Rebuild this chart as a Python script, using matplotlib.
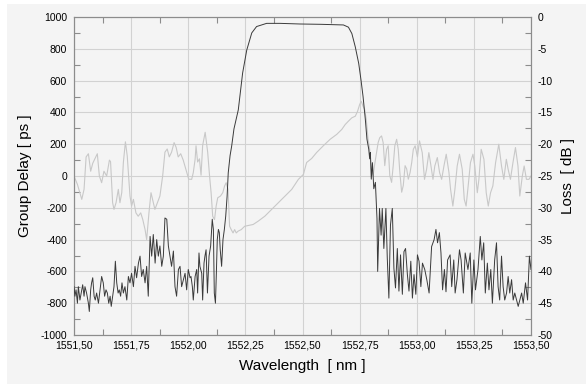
import matplotlib
matplotlib.use("Agg")
import matplotlib.pyplot as plt
from matplotlib.patches import Rectangle
from matplotlib.ticker import FuncFormatter, MultipleLocator

plt.rcParams['font.family'] = ['Liberation Sans', 'DejaVu Sans']
plt.rcParams['axes.unicode_minus'] = False

# group delay trace (light grey), wavelength [nm] / delay [ps]
gd_wl = [1551.500, 1551.515, 1551.534, 1551.544, 1551.553, 1551.563, 1551.573, 1551.582,
         1551.592, 1551.602, 1551.611, 1551.621, 1551.631, 1551.643, 1551.655, 1551.660,
         1551.669, 1551.675, 1551.684, 1551.694, 1551.701, 1551.709, 1551.716, 1551.725,
         1551.733, 1551.745, 1551.752, 1551.760, 1551.771, 1551.781, 1551.792, 1551.801,
         1551.811, 1551.818, 1551.828, 1551.837, 1551.844, 1551.854, 1551.865, 1551.876,
         1551.888, 1551.898, 1551.908, 1551.917, 1551.927, 1551.938, 1551.947, 1551.956,
         1551.967, 1551.978, 1551.990, 1552.002, 1552.015, 1552.022, 1552.030, 1552.034,
         1552.041, 1552.049, 1552.056, 1552.063, 1552.074, 1552.085, 1552.093, 1552.100,
         1552.107, 1552.115, 1552.122, 1552.129, 1552.141, 1552.151, 1552.159, 1552.166,
         1552.174, 1552.181, 1552.188, 1552.196, 1552.203, 1552.210, 1552.218, 1552.232,
         1552.247, 1552.284, 1552.306, 1552.335, 1552.365, 1552.394, 1552.424, 1552.453,
         1552.482, 1552.504, 1552.518, 1552.540, 1552.562, 1552.591, 1552.621, 1552.650,
         1552.672, 1552.687, 1552.701, 1552.716, 1552.731, 1552.741, 1552.750, 1552.757,
         1552.765, 1552.772, 1552.779, 1552.787, 1552.794, 1552.801, 1552.809, 1552.815,
         1552.824, 1552.831, 1552.838, 1552.846, 1552.853, 1552.860, 1552.868, 1552.875,
         1552.882, 1552.890, 1552.897, 1552.904, 1552.912, 1552.919, 1552.926, 1552.934,
         1552.941, 1552.949, 1552.956, 1552.963, 1552.971, 1552.978, 1552.985, 1552.993,
         1553.003, 1553.012, 1553.024, 1553.034, 1553.043, 1553.053, 1553.060, 1553.071,
         1553.079, 1553.090, 1553.100, 1553.109, 1553.119, 1553.129, 1553.141, 1553.148,
         1553.158, 1553.167, 1553.177, 1553.187, 1553.199, 1553.208, 1553.216, 1553.225,
         1553.235, 1553.246, 1553.254, 1553.265, 1553.272, 1553.282, 1553.294, 1553.304,
         1553.313, 1553.323, 1553.333, 1553.345, 1553.359, 1553.371, 1553.381, 1553.392,
         1553.400, 1553.410, 1553.421, 1553.432, 1553.443, 1553.451, 1553.462, 1553.470,
         1553.480, 1553.491, 1553.500]
gd_ps = [0, -53, -147, -84, 120, 140, 30, 80,
         110, 140, 0, -42, 30, 0, 100, 90,
         -168, -210, -168, -84, -168, -105, 84, 215,
         126, -126, -189, -147, -232, -253, -232, -274,
         -337, -400, -232, -105, -147, -210, -168, -126,
         0, 150, 170, 120, 150, 210, 180, 120,
         140, 100, 40, -20, -21, 21, 105, 190,
         88, 108, 5, 192, 275, 150, 5, -105,
         -253, -274, -190, -137, -126, -105, -63, -42,
         -84, -316, -337, -358, -337, -358, -347, -337,
         -316, -305, -284, -253, -210, -168, -126, -84,
         -21, 10, 85, 110, 148, 190, 231, 262,
         293, 324, 345, 366, 376, 407, 449, 470,
         439, 418, 356, 231, 168, 44, 2, 65,
         148, 210, 241, 252, 210, 65, 168, 190,
         2, -40, 65, 190, 231, 168, 23, -102,
         -60, 65, 44, -20, 23, 85, 168, 190,
         120, 221, 147, -21, 42, 147, 84, -21,
         63, 116, 21, -21, 63, 137, 21, -84,
         -189, -84, 63, 137, 42, -147, -189, -63,
         84, 137, 63, -105, -21, 168, 105, -105,
         -189, -105, -63, 84, 200, 63, -21, 105,
         42, -21, 84, 179, 63, -126, 0, 63,
         -21, -21, 0]

# loss trace (dark), wavelength [nm] / loss [dB]
loss_wl = [1551.500, 1551.504, 1551.509, 1551.515, 1551.519, 1551.526, 1551.534, 1551.538,
           1551.544, 1551.548, 1551.555, 1551.563, 1551.567, 1551.573, 1551.577, 1551.582,
           1551.588, 1551.593, 1551.599, 1551.607, 1551.614, 1551.621, 1551.628, 1551.634,
           1551.640, 1551.646, 1551.652, 1551.658, 1551.663, 1551.669, 1551.675, 1551.681,
           1551.687, 1551.693, 1551.698, 1551.704, 1551.710, 1551.716, 1551.723, 1551.731,
           1551.738, 1551.745, 1551.752, 1551.760, 1551.767, 1551.774, 1551.782, 1551.789,
           1551.796, 1551.803, 1551.811, 1551.818, 1551.825, 1551.833, 1551.840, 1551.847,
           1551.855, 1551.862, 1551.869, 1551.876, 1551.884, 1551.891, 1551.898, 1551.906,
           1551.913, 1551.920, 1551.927, 1551.935, 1551.942, 1551.949, 1551.957, 1551.964,
           1551.971, 1551.979, 1551.986, 1551.993, 1552.000, 1552.008, 1552.012, 1552.018,
           1552.022, 1552.030, 1552.037, 1552.041, 1552.047, 1552.051, 1552.059, 1552.063,
           1552.069, 1552.073, 1552.078, 1552.084, 1552.091, 1552.098, 1552.105, 1552.110,
           1552.114, 1552.119, 1552.123, 1552.127, 1552.132, 1552.136, 1552.140, 1552.146,
           1552.152, 1552.158, 1552.164, 1552.170, 1552.175, 1552.183, 1552.190, 1552.200,
           1552.219, 1552.238, 1552.256, 1552.278, 1552.299, 1552.343, 1552.402, 1552.489,
           1552.580, 1552.679, 1552.701, 1552.716, 1552.731, 1552.746, 1552.756, 1552.765,
           1552.775, 1552.782, 1552.790, 1552.794, 1552.797, 1552.801, 1552.806, 1552.812,
           1552.819, 1552.826, 1552.829, 1552.837, 1552.844, 1552.849, 1552.856, 1552.865,
           1552.871, 1552.878, 1552.885, 1552.893, 1552.900, 1552.907, 1552.915, 1552.922,
           1552.929, 1552.937, 1552.944, 1552.951, 1552.959, 1552.966, 1552.974, 1552.981,
           1552.988, 1552.996, 1553.003, 1553.010, 1553.018, 1553.025, 1553.035, 1553.044,
           1553.054, 1553.065, 1553.076, 1553.084, 1553.091, 1553.099, 1553.106, 1553.113,
           1553.121, 1553.128, 1553.135, 1553.146, 1553.153, 1553.162, 1553.168, 1553.176,
           1553.187, 1553.194, 1553.204, 1553.212, 1553.224, 1553.234, 1553.241, 1553.250,
           1553.257, 1553.268, 1553.278, 1553.285, 1553.293, 1553.300, 1553.309, 1553.316,
           1553.324, 1553.331, 1553.341, 1553.349, 1553.356, 1553.363, 1553.371, 1553.378,
           1553.385, 1553.393, 1553.400, 1553.407, 1553.415, 1553.422, 1553.429, 1553.437,
           1553.444, 1553.451, 1553.459, 1553.466, 1553.476, 1553.485, 1553.493, 1553.500]
loss_db = [-42.4, -43.9, -42.9, -45.0, -42.4, -44.5, -42.9, -42.1,
           -43.9, -42.4, -43.4, -45.0, -46.3, -42.9, -41.8, -41.0,
           -43.9, -44.5, -43.4, -45.0, -42.9, -40.8, -41.8, -43.9,
           -42.9, -43.4, -45.0, -43.9, -45.5, -43.9, -42.4, -38.4,
           -41.8, -43.4, -42.9, -43.9, -41.8, -43.4, -42.4, -44.5,
           -40.8, -41.8, -40.3, -42.4, -39.2, -41.0, -38.7, -37.6,
           -40.8, -39.7, -41.8, -39.2, -43.9, -34.5, -37.6, -34.2,
           -38.7, -35.0, -37.6, -36.0, -39.2, -37.6, -31.6, -31.8,
           -36.0, -37.6, -39.2, -36.8, -42.4, -43.9, -39.7, -39.2,
           -42.4, -41.3, -40.3, -42.9, -39.7, -41.0, -40.8, -42.4,
           -44.5, -40.8, -39.7, -43.4, -37.1, -39.2, -40.3, -44.5,
           -38.7, -37.6, -36.6, -43.4, -37.6, -36.0, -31.8, -33.4,
           -43.4, -45.0, -40.3, -35.0, -33.4, -33.9, -36.6, -39.2,
           -35.0, -33.4, -31.3, -28.2, -24.5, -21.8, -20.3, -17.6,
           -14.6, -8.8, -5.2, -2.5, -1.5, -1.0, -1.0, -1.1,
           -1.15, -1.25, -1.6, -2.6, -4.7, -7.3, -9.9, -12.5,
           -16.1, -19.2, -20.8, -22.3, -21.3, -25.5, -22.9, -27.0,
           -26.0, -31.7, -40.0, -30.1, -34.3, -30.1, -36.4, -30.1,
           -37.9, -44.2, -32.7, -30.1, -39.5, -42.6, -36.4, -43.1,
           -37.4, -43.6, -36.9, -36.4, -40.5, -43.1, -38.4, -44.2,
           -40.5, -43.6, -37.4, -38.4, -42.4, -38.7, -39.7, -41.3,
           -43.4, -36.1, -35.0, -33.4, -35.5, -33.9, -37.1, -42.9,
           -39.7, -43.2, -38.2, -37.4, -42.4, -38.2, -43.4, -41.3,
           -36.6, -38.2, -43.4, -37.1, -39.7, -37.1, -45.0, -38.2,
           -42.9, -39.7, -34.5, -38.2, -35.5, -43.4, -38.7, -42.9,
           -39.7, -45.0, -38.2, -35.5, -42.4, -44.5, -37.6, -42.4,
           -44.5, -43.4, -40.8, -43.4, -41.3, -44.5, -43.4, -44.5,
           -45.5, -44.5, -43.4, -45.0, -41.8, -44.5, -37.6, -39.7]

bg = '#f4f4f4'
fig = plt.figure(figsize=(5.86, 3.84), dpi=100, facecolor='white')
fig.patches.append(Rectangle((7 / 586, 0), 1, 1 - 4 / 384, transform=fig.transFigure,
                             facecolor=bg, edgecolor='none', zorder=-10))

ax = fig.add_axes([74 / 586, 1 - 335 / 384, 457 / 586, 318 / 384])
ax.set_facecolor(bg)
ax2 = ax.twinx()

ax.plot(gd_wl, gd_ps, color='#c8c8c8', lw=0.8, zorder=2)
ax2.plot(loss_wl, loss_db, color='#3a3a3a', lw=0.7, zorder=3)

ax.set_xlim(1551.5, 1553.5)
ax.set_ylim(-1000, 1000)
ax2.set_ylim(-50, 0)

ax.xaxis.set_major_locator(MultipleLocator(0.25))
ax.xaxis.set_minor_locator(MultipleLocator(0.125))
ax.yaxis.set_major_locator(MultipleLocator(200))
ax.yaxis.set_minor_locator(MultipleLocator(100))
ax2.yaxis.set_major_locator(MultipleLocator(5))
ax2.yaxis.set_minor_locator(MultipleLocator(2.5))
ax.xaxis.set_major_formatter(FuncFormatter(lambda v, p: f"{v:.2f}".replace('.', ',')))

ax.grid(True, which='major', color='#d2d2d2', lw=0.8)
ax.set_axisbelow(True)

for a in (ax, ax2):
    for s in a.spines.values():
        s.set_color('#8c8c8c')
        s.set_linewidth(0.8)
    a.tick_params(which='both', direction='in', color='#8c8c8c', labelsize=7.5,
                  top=True, width=0.8)
    a.tick_params(which='major', length=0)
    a.tick_params(which='minor', length=4)
ax.tick_params(right=False, which='both')
ax2.tick_params(left=False, which='both')
ax.tick_params(axis='x', pad=4)
ax.tick_params(axis='y', pad=5)
ax2.tick_params(axis='y', pad=5)

ax.set_xlabel('Wavelength  [ nm ]', fontsize=11, labelpad=6)
ax.set_ylabel('Group Delay [ ps ]', fontsize=11, labelpad=6)
ax2.set_ylabel('Loss  [ dB ]', fontsize=11, labelpad=6)

fig.savefig('out.png', dpi=100, facecolor=fig.get_facecolor())
